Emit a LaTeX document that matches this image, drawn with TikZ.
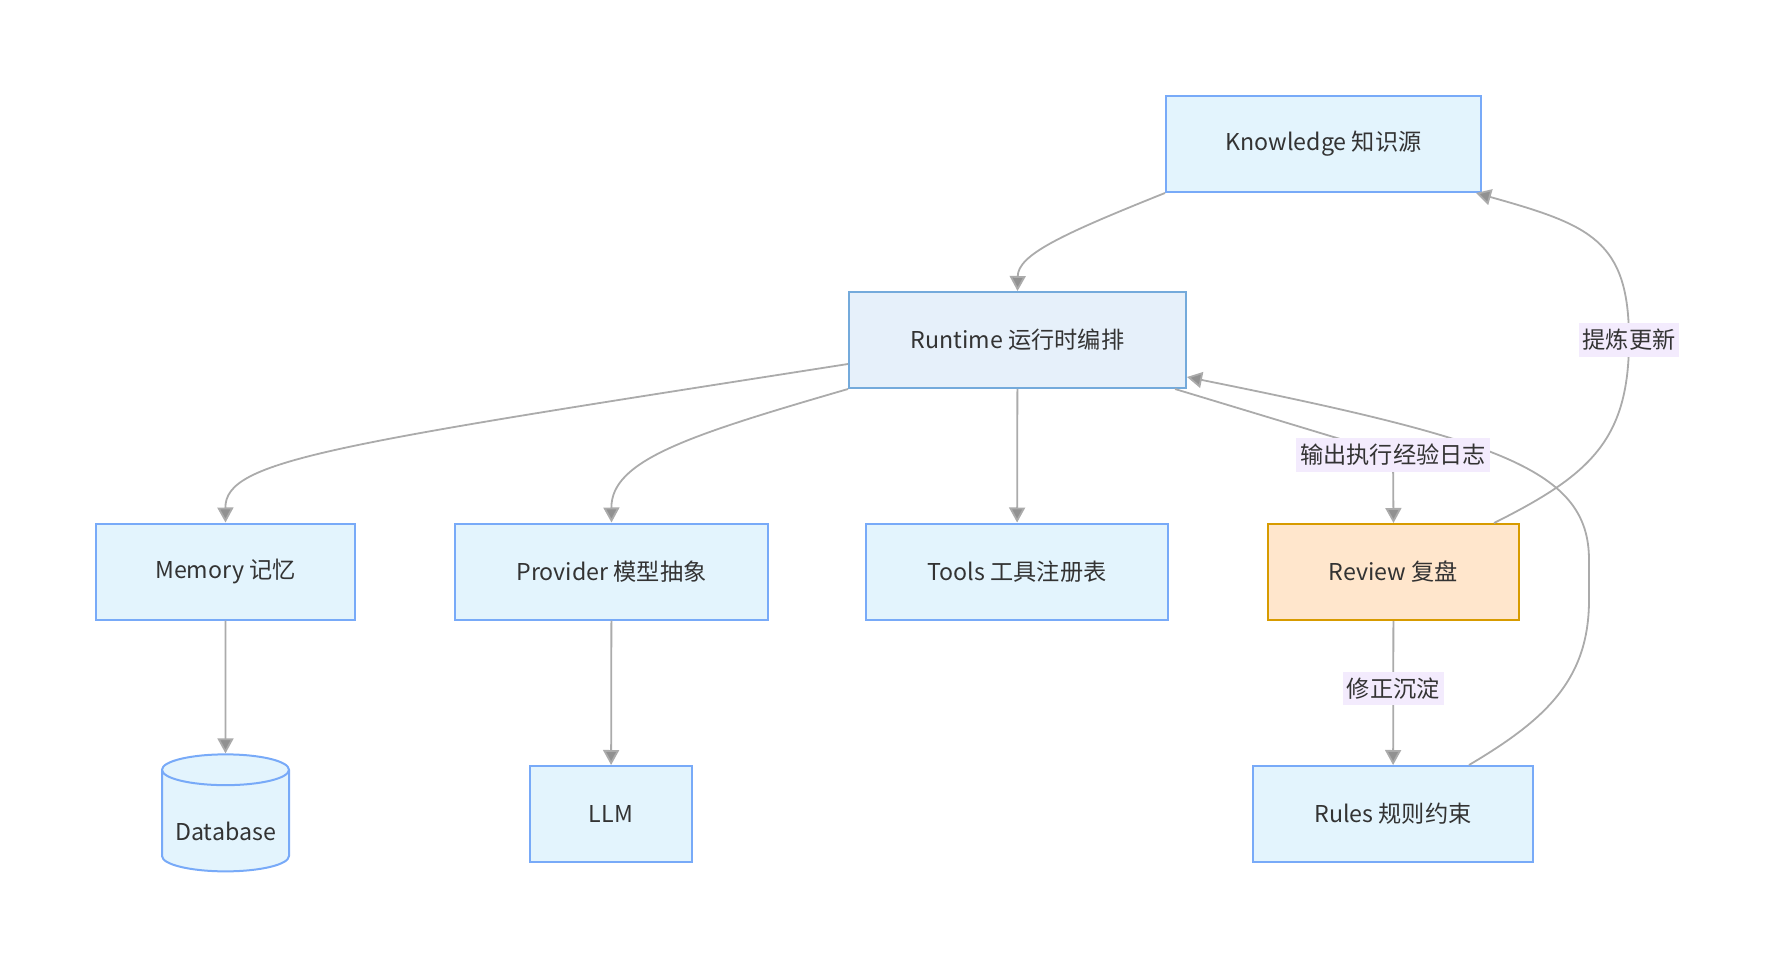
\documentclass[tikz,border=0pt]{standalone}
\usepackage{fontspec}
\setmainfont{Noto Sans CJK SC}
\usetikzlibrary{arrows.meta,shapes.geometric}
\definecolor{boxfill}{HTML}{E3F4FD}
\definecolor{boxline}{HTML}{78AAF8}
\definecolor{rtfill}{HTML}{E6F0FA}
\definecolor{rtline}{HTML}{74AADB}
\definecolor{rvfill}{HTML}{FFE6CC}
\definecolor{rvline}{HTML}{D79B00}
\definecolor{edgegray}{HTML}{ABABAB}
\definecolor{lblfill}{HTML}{F3EBFD}
\definecolor{txt}{HTML}{333333}

\begin{document}
\begin{tikzpicture}[x=0.5pt,y=-0.5pt,
        box/.style={draw=boxline,fill=boxfill,line width=1pt,minimum height=48pt,text=txt,font=\fontsize{11.6}{13}\selectfont},
        rtbox/.style={draw=rtline,fill=rtfill},
        rvbox/.style={draw=rvline,fill=rvfill},
        dbbox/.style={cylinder,shape border rotate=90,aspect=0.27,draw=boxline,fill=boxfill,line width=1pt,minimum width=63.5pt,minimum height=58.5pt,text=txt,text height=16pt,text depth=0pt,font=\fontsize{11.6}{13}\selectfont},
        edge/.style={draw=edgegray,line width=0.9pt,-{Triangle[length=7.5pt,width=8pt,fill=edgegray!85!black]}},
        lbl/.style={fill=lblfill,text=txt,font=\fontsize{11.6}{13}\selectfont,inner xsep=2pt,inner ysep=3pt}]
        \useasboundingbox (0,0) rectangle (1773,968);

        \node[box,minimum width=157.5pt] (kn) at (1323.5,144) {Knowledge 知识源};
        \node[box,rtbox,minimum width=168.5pt] (rt) at (1017.5,340) {Runtime 运行时编排};
        \node[box,minimum width=129.5pt] (mem) at (225.5,571.5) {Memory 记忆};
        \node[box,minimum width=156.5pt] (prov) at (611.5,571.5) {Provider 模型抽象};
        \node[box,minimum width=151pt] (tools) at (1017,571.5) {Tools 工具注册表};
        \node[box,rvbox,minimum width=125.5pt] (rv) at (1393.5,572) {Review 复盘};
        \node[dbbox] (db) at (225.5,824.5) {Database};
        \node[box,minimum width=81pt] (llm) at (611,814) {LLM};
        \node[box,minimum width=140pt] (rl) at (1393,814) {Rules 规则约束};

        \draw[edge] (kn.south west) .. controls (1060,235) and (1018,255) .. (rt.north);
        \draw[edge] ([yshift=-12pt]rt.west) .. controls (330,445) and (225,460) .. (mem.north);
        \draw[edge] (rt.south west) .. controls (690,435) and (611,460) .. (prov.north);
        \draw[edge] (rt) -- (tools);
        \draw[edge] ([xshift=-32.5pt]rl.north east) .. controls (1545,720) and (1589,680) .. (1589,600) -- (1589,560) .. controls (1589,470) and (1500,440) .. ([yshift=-18.5pt]rt.east);
        \draw[edge] ([xshift=-6pt]rt.south east) -- (1393,455) node[lbl] {输出执行经验日志} -- (rv.north);
        \draw[edge] ([xshift=-13pt]rv.north east) .. controls (1590,475) and (1629,440) .. (1629,340) node[lbl] {提炼更新} .. controls (1629,240) and (1590,225) .. ([xshift=-3pt]kn.south east);
        \draw[edge] (rv) -- node[lbl,pos=0.47] {修正沉淀} (rl);

        \draw[edge] (mem) -- (db);
        \draw[edge] (prov) -- (llm);
    \end{tikzpicture}
\end{document}
